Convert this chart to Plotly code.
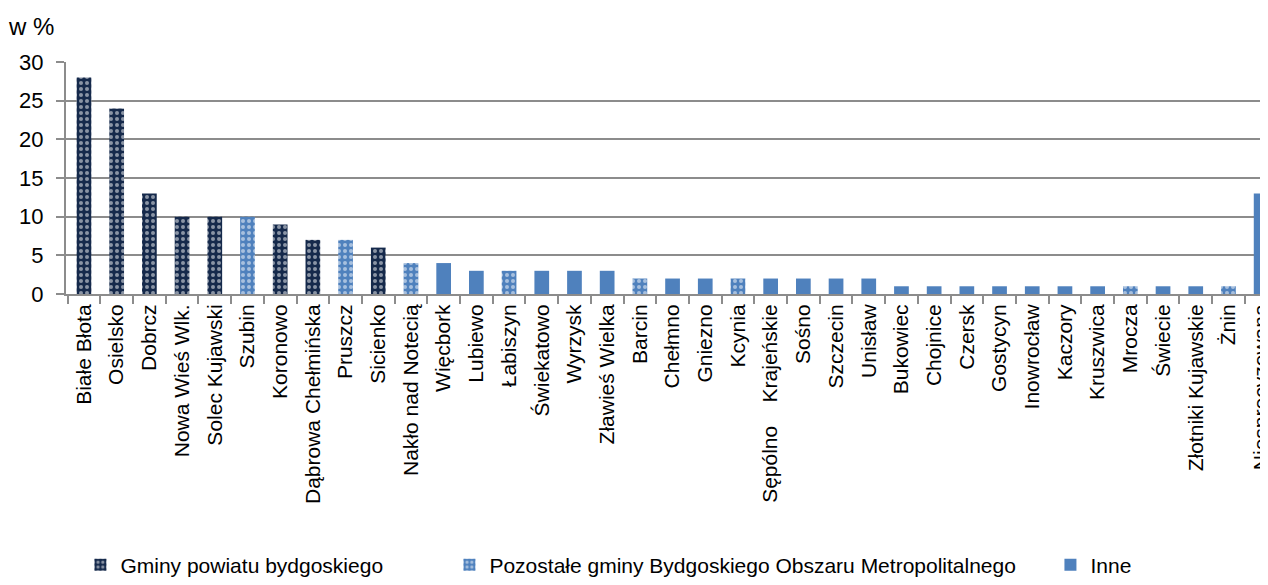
import plotly.graph_objects as go

categories = ["Białe Błota", "Osielsko", "Dobrcz", "Nowa Wieś Wlk.", "Solec Kujawski", "Szubin",
              "Koronowo", "Dąbrowa Chełmińska", "Pruszcz", "Sicienko", "Nakło nad Notecią",
              "Więcbork", "Lubiewo", "Łabiszyn", "Świekatowo", "Wyrzysk", "Zławieś Wielka",
              "Barcin", "Chełmno", "Gniezno", "Kcynia", "Sępólno\u00a0\u00a0\u00a0\u00a0Krajeńskie", "Sośno",
              "Szczecin", "Unisław", "Bukowiec", "Chojnice", "Czersk", "Gostycyn", "Inowrocław",
              "Kaczory", "Kruszwica", "Mrocza", "Świecie", "Złotniki Kujawskie", "Żnin",
              "Niesprecyzowana"]
values = [28, 24, 13, 10, 10, 10, 9, 7, 7, 6, 4, 4, 3, 3, 3, 3, 3, 2, 2, 2, 2, 2, 2, 2, 2,
          1, 1, 1, 1, 1, 1, 1, 1, 1, 1, 1, 13]
groups = ["A", "A", "A", "A", "A", "B", "A", "A", "B", "A", "B",
          "C", "C", "B", "C", "C", "C", "B", "C", "C", "B", "C", "C",
          "C", "C", "C", "C", "C", "C", "C", "C", "C", "B", "C", "C", "B", "C"]
series_names = {"A": "Gminy powiatu bydgoskiego",
                "B": "Pozostałe gminy Bydgoskiego Obszaru Metropolitalnego",
                "C": "Inne"}

DARK = "#15294b"
BLUE = "#4f81bd"
FONT = "Liberation Sans, Arial, sans-serif"

styles = {
    "A": dict(color=DARK, pattern=dict(shape=".", fgcolor="white", bgcolor=DARK, size=6, solidity=0.35)),
    "B": dict(color=BLUE, pattern=dict(shape=".", fgcolor="white", bgcolor=BLUE, size=6, solidity=0.35)),
    "C": dict(color=BLUE),
}
legend_ids = {"A": "legend", "B": "legend2", "C": "legend3"}

fig = go.Figure()
for g in ["A", "B", "C"]:
    xs = [c for c, gg in zip(categories, groups) if gg == g]
    ys = [v for v, gg in zip(values, groups) if gg == g]
    fig.add_trace(go.Bar(x=xs, y=ys, name=series_names[g], marker=styles[g],
                         marker_line_width=0, legend=legend_ids[g]))

def leg(x):
    return dict(x=x, y=-1.168, xanchor="left", yanchor="middle", orientation="h",
                font=dict(family=FONT, size=21, color="black"), bgcolor="rgba(0,0,0,0)")

fig.update_layout(
    width=1260, height=577,
    margin=dict(l=58, r=0, t=54, b=291, autoexpand=False),
    paper_bgcolor="white", plot_bgcolor="white",
    barmode="overlay", bargap=0.55,
    font=dict(family=FONT, size=21, color="black"),
    legend=leg(0.012), legend2=leg(0.319), legend3=leg(0.819),
    showlegend=True,
)
fig.update_xaxes(
    type="category", categoryorder="array", categoryarray=categories,
    range=[-0.55, 36.21], tickangle=-90, automargin=False,
    showline=True, linecolor="#8c8c8c", linewidth=2,
    ticks="outside", ticklen=8, tickcolor="#8c8c8c", tickwidth=2, tickson="boundaries",
    tickfont=dict(family=FONT, size=21, color="black"), showgrid=False,
)
fig.update_yaxes(
    range=[0, 30], tickvals=[0, 5, 10, 15, 20, 25, 30], automargin=False,
    showline=True, linecolor="#8c8c8c", linewidth=2,
    ticks="outside", ticklen=8, tickcolor="#8c8c8c", tickwidth=2, ticklabelstandoff=8,
    showgrid=True, gridcolor="#8c8c8c", gridwidth=2, zeroline=False,
    tickfont=dict(family=FONT, size=22, color="black"),
)
fig.add_annotation(text="w %", xref="paper", yref="paper", x=-0.05, y=1.151,
                   xanchor="left", yanchor="middle", showarrow=False,
                   font=dict(family=FONT, size=24, color="black"))

fig.write_html("out.html")
